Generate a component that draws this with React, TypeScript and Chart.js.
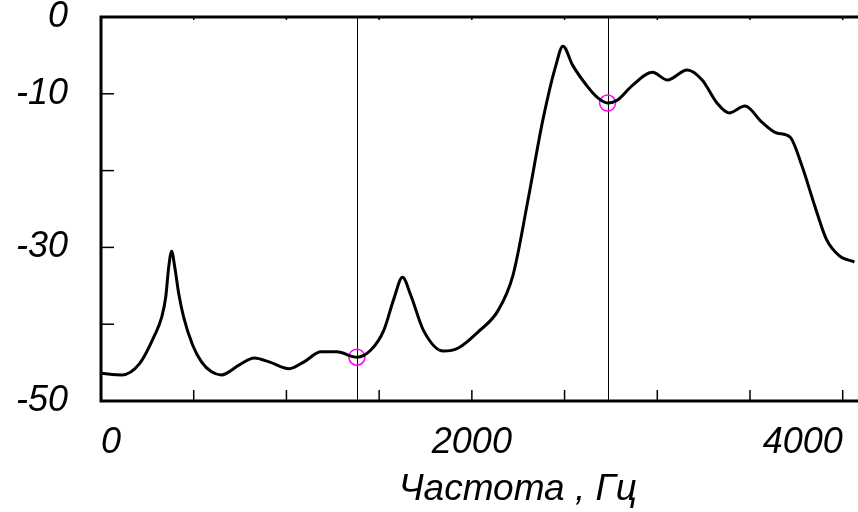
import React, { useEffect, useRef } from "react";
import { Chart, registerables } from "chart.js";

Chart.register(...registerables);

// Frequency (Hz) and level (dB)
const freqs = [
  0, 113, 209, 290, 327, 349, 365, 381, 398, 419, 446, 494, 542, 596, 649,
  746, 826, 907, 1014, 1095, 1187, 1272, 1380, 1454, 1525, 1578, 1626, 1670,
  1739, 1847, 1927, 2034, 2142, 2222, 2303, 2383, 2453, 2491, 2544, 2625, 2678,
  2732, 2786, 2866, 2974, 3054, 3161, 3242, 3322, 3387, 3473, 3564, 3644, 3715,
  3779, 3848, 3913, 3982, 4063,
];
const levels = [
  -46.4, -46.6, -45.1, -41.4, -39.1, -36.5, -32.6, -30.5, -32.6, -36.0, -39.1,
  -42.7, -44.9, -46.2, -46.6, -45.3, -44.4, -44.9, -45.8, -44.9, -43.6, -43.6,
  -44.3, -43.4, -40.8, -36.8, -33.9, -36.2, -40.8, -43.5, -43.1, -41.0, -38.2,
  -33.6, -23.8, -13.4, -6.3, -3.8, -6.3, -9.1, -10.5, -11.2, -10.8, -8.9, -7.2,
  -8.2, -6.9, -8.2, -11.2, -12.5, -11.6, -13.7, -15.1, -15.6, -19.3, -24.5,
  -29.0, -31.1, -31.9,
];

// Cursor positions and marker levels
const cursorFreqs = [1380, 2732];
const cursorLevels = [-44.3, -11.2];

// Axis settings
const xMin = 0;
const xMax = 4495;
const xStep = 500;
const xLabelValues = [0, 2000, 4000];
const yMin = -50;
const yMax = 0;
const yStep = 10;
const yLabelValues = [0, -10, -30, -50];
const xTitle = "Частота , Гц";

const FONT = "'Liberation Sans', Arial, sans-serif";

const framePlugin = {
  id: "frame",
  beforeDatasetsDraw(chart: any) {
    const { ctx, chartArea } = chart;
    const xs = chart.scales.x;
    ctx.save();
    ctx.strokeStyle = "#000";
    ctx.lineWidth = 1;
    cursorFreqs.forEach((f) => {
      const px = Math.round(xs.getPixelForValue(f)) + 0.5;
      ctx.beginPath();
      ctx.moveTo(px, chartArea.top);
      ctx.lineTo(px, chartArea.bottom);
      ctx.stroke();
    });
    ctx.restore();
  },
  afterDatasetsDraw(chart: any) {
    const { ctx, chartArea } = chart;
    const xs = chart.scales.x;
    const ys = chart.scales.y;
    ctx.save();
    ctx.strokeStyle = "#000";
    ctx.lineWidth = 1.5;
    for (let v = yMin + yStep; v < yMax; v += yStep) {
      const py = ys.getPixelForValue(v);
      ctx.beginPath();
      ctx.moveTo(chartArea.left, py);
      ctx.lineTo(chartArea.left + 13, py);
      ctx.stroke();
    }
    for (let v = xMin + xStep; v < xMax; v += xStep) {
      const px = xs.getPixelForValue(v);
      ctx.beginPath();
      ctx.moveTo(px, chartArea.bottom);
      ctx.lineTo(px, chartArea.bottom - 11);
      ctx.stroke();
      ctx.beginPath();
      ctx.moveTo(px, chartArea.top);
      ctx.lineTo(px, chartArea.top + 3);
      ctx.stroke();
    }
    ctx.lineWidth = 3;
    ctx.beginPath();
    ctx.moveTo(chartArea.right, chartArea.top);
    ctx.lineTo(chartArea.left, chartArea.top);
    ctx.lineTo(chartArea.left, chartArea.bottom);
    ctx.lineTo(chartArea.right, chartArea.bottom);
    ctx.stroke();
    ctx.restore();
  },
};

export default function App() {
  const ref = useRef<HTMLCanvasElement>(null);

  useEffect(() => {
    if (!ref.current) return;
    const chart = new Chart(ref.current, {
      type: "line",
      data: {
        datasets: [
          {
            data: freqs.map((f, i) => ({ x: f, y: levels[i] })),
            borderColor: "#000",
            borderWidth: 3,
            pointRadius: 0,
            cubicInterpolationMode: "monotone",
            fill: false,
          },
          {
            data: cursorFreqs.map((f, i) => ({ x: f, y: cursorLevels[i] })),
            showLine: false,
            pointRadius: 8,
            pointStyle: "circle",
            borderColor: "#ff00ff",
            backgroundColor: "rgba(0,0,0,0)",
            borderWidth: 1.5,
          },
        ],
      },
      plugins: [framePlugin],
      options: {
        animation: false,
        responsive: true,
        maintainAspectRatio: false,
        layout: { padding: { top: 17, left: 0, right: 0, bottom: 0 } },
        plugins: {
          legend: { display: false },
          tooltip: { enabled: false },
        },
        scales: {
          x: {
            type: "linear",
            min: xMin,
            max: xMax,
            grid: { display: false, drawTicks: false },
            border: { display: false },
            afterBuildTicks(scale: any) {
              const t = [];
              for (let v = xMin; v <= xMax; v += xStep) t.push({ value: v });
              scale.ticks = t;
            },
            afterFit(scale: any) {
              scale.height = 111;
              scale.paddingLeft = 0;
              scale.paddingRight = 0;
            },
            ticks: {
              autoSkip: false,
              maxRotation: 0,
              minRotation: 0,
              align: "inner",
              padding: 20,
              color: "#000",
              font: { family: FONT, size: 36, style: "italic" },
              callback: (v: any) =>
                xLabelValues.includes(Number(v)) ? String(v) : "",
            },
            title: {
              display: true,
              text: xTitle,
              color: "#000",
              font: { family: FONT, size: 37, style: "italic" },
              padding: { top: 0, bottom: 0 },
            },
          },
          y: {
            type: "linear",
            min: yMin,
            max: yMax,
            grid: { display: false, drawTicks: false },
            border: { display: false },
            afterBuildTicks(scale: any) {
              const t = [];
              for (let v = yMin; v <= yMax; v += yStep) t.push({ value: v });
              scale.ticks = t;
            },
            afterFit(scale: any) {
              scale.width = 101;
              scale.paddingTop = 0;
              scale.paddingBottom = 0;
            },
            ticks: {
              autoSkip: false,
              padding: 33,
              color: "#000",
              font: { family: FONT, size: 36, style: "italic" },
              callback: (v: any) =>
                yLabelValues.includes(Number(v)) ? String(v) : "",
            },
          },
        },
      },
    } as any);
    return () => chart.destroy();
  }, []);

  return (
    <div
      style={{
        position: "fixed",
        left: 0,
        top: 0,
        width: 858,
        height: 512,
        overflow: "hidden",
        background: "#fff",
      }}
    >
      <div style={{ position: "relative", width: 944, height: 512 }}>
        <canvas ref={ref} />
      </div>
    </div>
  );
}
